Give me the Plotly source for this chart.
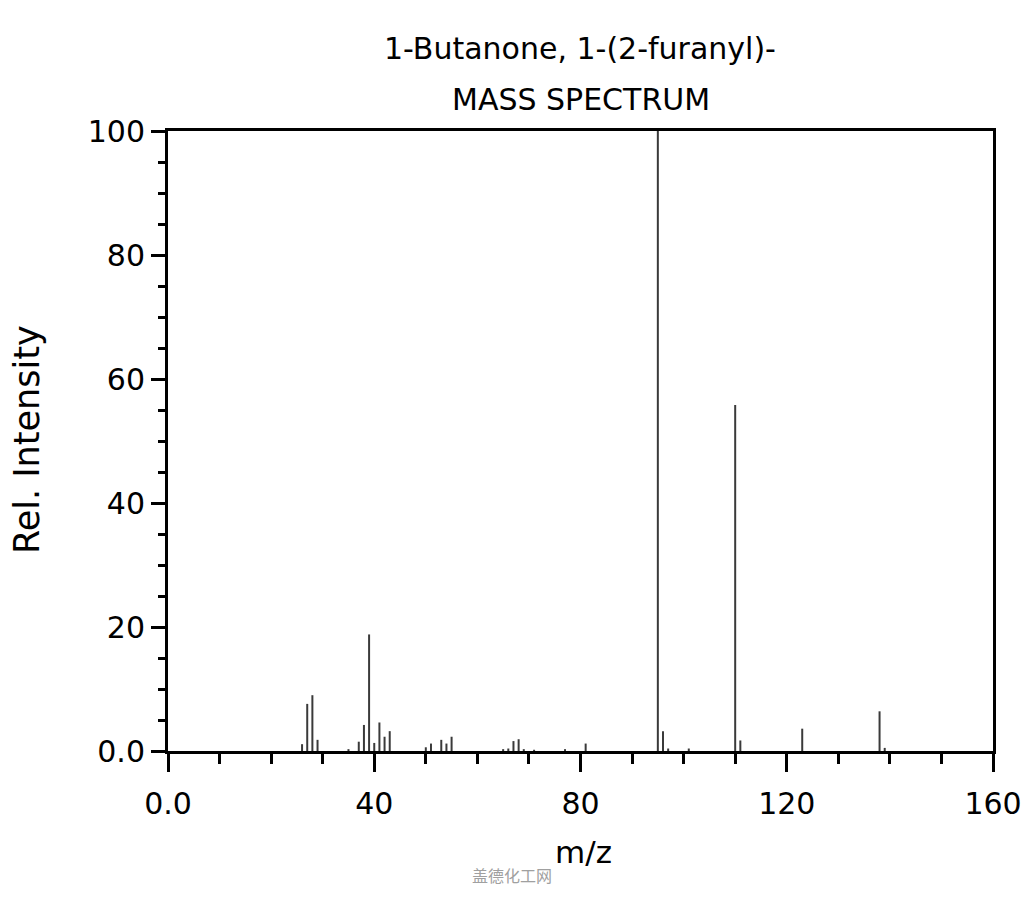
import plotly.graph_objects as go

# m/z values and relative intensities
mz = [26, 27, 28, 29, 35, 37, 38, 39, 40, 41, 42, 43,
      50, 51, 53, 54, 55, 65, 66, 67, 68, 69, 71, 77, 81,
      95, 96, 97, 101, 110, 111, 123, 138, 139]
intensity = [1.1, 7.6, 9.0, 1.8, 0.3, 1.5, 4.2, 18.8, 1.3, 4.6, 2.3, 3.2,
             0.6, 1.2, 1.8, 1.2, 2.3, 0.3, 0.4, 1.6, 1.9, 0.3, 0.2, 0.3, 1.2,
             100.0, 3.2, 0.4, 0.4, 55.8, 1.7, 3.6, 6.4, 0.5]

x_tickvals = [0, 40, 80, 120, 160]
x_ticktext = ["0.0", "40", "80", "120", "160"]
y_tickvals = [0, 20, 40, 60, 80, 100]
y_ticktext = ["0.0", "20", "40", "60", "80", "100"]

title_lines = ["1-Butanone, 1-(2-furanyl)-", "MASS SPECTRUM"]
x_title = "m/z"
y_title = "Rel. Intensity"
watermark = "盖德化工网"

# build stick segments from the data
xs, ys = [], []
for m, v in zip(mz, intensity):
    xs += [m, m, None]
    ys += [0, v, None]

W, H = 1024, 900
L, R, T, B = 168, 31, 131, 149
PW, PH = W - L - R, H - T - B


def px(x):
    return (x - L) / PW


def py(y):
    return (H - B - y) / PH


fig = go.Figure()
fig.add_trace(go.Scatter(x=xs, y=ys, mode="lines",
                         line=dict(color="#3a3a3a", width=2),
                         hoverinfo="skip", showlegend=False))

font_family = "DejaVu Sans"
axis_common = dict(showline=True, linecolor="black", linewidth=3, mirror=True,
                   showgrid=False, zeroline=False, ticks="outside",
                   tickcolor="black", tickwidth=3,
                   tickfont=dict(family=font_family, size=30, color="black"))

fig.update_layout(
    width=W, height=H,
    paper_bgcolor="white", plot_bgcolor="white",
    margin=dict(l=L, r=R, t=T, b=B, autoexpand=False),
    font=dict(family=font_family, color="black"),
    xaxis=dict(range=[0, 160], tickvals=x_tickvals, ticktext=x_ticktext,
               ticklen=18, ticklabelstandoff=6,
               minor=dict(dtick=10, tick0=0, ticks="outside", ticklen=10,
                          tickcolor="black", tickwidth=3),
               **axis_common),
    yaxis=dict(range=[0, 100], tickvals=y_tickvals, ticktext=y_ticktext,
               ticklen=14,
               minor=dict(dtick=5, tick0=0, ticks="outside", ticklen=7,
                          tickcolor="black", tickwidth=3),
               **axis_common),
)

ann = [
    dict(text=title_lines[0], x=px(580), y=py(48), size=30),
    dict(text=title_lines[1], x=px(581), y=py(100), size=30),
    dict(text=x_title, x=px(583), y=py(852), size=31),
]
for a in ann:
    fig.add_annotation(text=a["text"], x=a["x"], y=a["y"], xref="paper", yref="paper",
                       xanchor="center", yanchor="middle", showarrow=False,
                       font=dict(family=font_family, size=a["size"], color="black"))
fig.add_annotation(text=y_title, x=px(27), y=py(440), xref="paper", yref="paper",
                   xanchor="center", yanchor="middle", showarrow=False, textangle=-90,
                   font=dict(family=font_family, size=35, color="black"))
fig.add_annotation(text=watermark, x=px(512), y=py(875), xref="paper", yref="paper",
                   xanchor="center", yanchor="middle", showarrow=False,
                   font=dict(family="Noto Sans CJK SC", size=16, color="#a0a0a0"))

fig.write_html("out.html", config={"displayModeBar": False},
               post_script="document.body.style.margin='0';document.body.style.overflow='hidden';")
